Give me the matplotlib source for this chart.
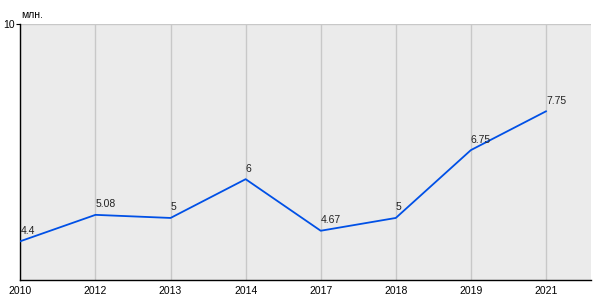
import matplotlib.pyplot as plt

plt.rcParams['font.family'] = ['Liberation Sans', 'DejaVu Sans']

years = ['2010', '2012', '2013', '2014', '2017', '2018', '2019', '2021']
values = [4.4, 5.08, 5, 6, 4.67, 5, 6.75, 7.75]
labels = ['4.4', '5.08', '5', '6', '4.67', '5', '6.75', '7.75']

fig = plt.figure(figsize=(6, 3), dpi=100)
ax = fig.add_axes([0.034, 0.0667, 0.951, 0.853])
ax.set_facecolor('#ebebeb')

xs = range(len(years))
ax.plot(xs, values, color='#0050e6', lw=1.3, zorder=3)

for x, v, t in zip(xs, values, labels):
    ax.annotate(t, (x, v), xytext=(0, 4), textcoords='offset points',
                fontsize=7.5, ha='left', va='bottom', color='#222222')

ax.set_xlim(0, 7.6)
ax.set_ylim(3.4, 10)
ax.set_xticks(list(xs))
ax.set_xticklabels(years)
ax.set_yticks([10])
ax.set_yticklabels(['10'])
ax.tick_params(axis='x', length=0, labelsize=7.5, pad=4)
ax.tick_params(axis='y', length=3, labelsize=7.5, pad=1)

ax.grid(True, color='#c8c8c8', lw=1)
ax.set_axisbelow(True)
for s in ['top', 'right']:
    ax.spines[s].set_visible(False)
for s in ['left', 'bottom']:
    ax.spines[s].set_color('black')
    ax.spines[s].set_linewidth(1)

fig.text(0.035, 0.94, 'млн.', fontsize=7.5, ha='left', va='baseline')

fig.savefig('out.png')
